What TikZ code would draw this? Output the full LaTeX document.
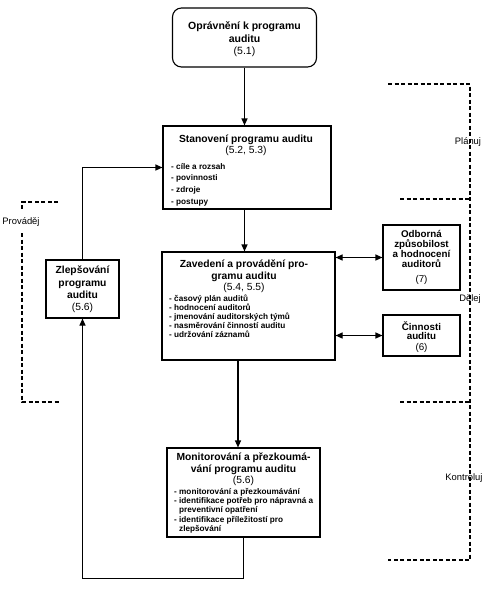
\documentclass[tikz,border=0pt]{standalone}
\usepackage{fontspec}
\setmainfont{Liberation Sans}
\usetikzlibrary{arrows.meta}
\begin{document}
\begin{tikzpicture}[x=1pt,y=-1pt,
  box/.style={draw, line width=1.1pt, inner sep=0pt},
  ttl/.style={inner sep=0pt, align=center, font=\bfseries\fontsize{10.3}{11.6}\selectfont},
  lst/.style={inner sep=0pt, align=left, anchor=west},
  arr/.style={line width=1.1pt, -{Triangle[length=7pt,width=6pt]}},
  darr/.style={line width=1.1pt, {Triangle[length=7pt,width=6pt]}-{Triangle[length=7pt,width=6pt]}},
  bracket/.style={line width=1.1pt, dash pattern=on 4pt off 2.5pt},
  lbl/.style={inner sep=0pt, font=\fontsize{9.4}{11}\selectfont}]
\useasboundingbox (0,0) rectangle (484,592);

% boxes
\node[box, rounded corners=9pt, minimum width=144pt, minimum height=59pt] (auth) at (244.5,37.5) {};
\node[box, minimum width=168pt, minimum height=83pt] (plan) at (247,167.5) {};
\node[box, minimum width=173pt, minimum height=108pt] (impl) at (248.5,306) {};
\node[box, minimum width=153pt, minimum height=89pt] (mon) at (243.5,492.5) {};
\node[box, minimum width=73pt, minimum height=58pt] (imp) at (82.5,289) {};
\node[box, minimum width=77pt, minimum height=65pt] (comp) at (421.5,257.5) {};
\node[box, minimum width=77pt, minimum height=41pt] (act) at (421.5,335.5) {};

% texts
\node[ttl, font=\bfseries\fontsize{10.5}{12.5}\selectfont] (auth-t) at (244.5,39.5) {Oprávnění k programu\\auditu\\\mdseries(5.1)};
\node[ttl, font=\bfseries\fontsize{10.3}{11}\selectfont] (plan-t) at (246,145.5) {Stanovení programu auditu\\\mdseries(5.2, 5.3)};
\node[lst, font=\bfseries\fontsize{8.2}{11.6}\selectfont] (plan-l) at (171,184.5) {- cíle a rozsah\\- povinnosti\\- zdroje\\- postupy};
\node[ttl, font=\bfseries\fontsize{10.3}{11.5}\selectfont] (impl-t) at (244,276.5) {Zavedení a provádění pro-\\gramu auditu\\\mdseries(5.4, 5.5)};
\node[lst, font=\bfseries\fontsize{8.2}{9}\selectfont] (impl-l) at (169,316) {- časový plán auditů\\- hodnocení auditorů\\- jmenování auditorských týmů\\- nasměrování činností auditu\\- udržování záznamů};
\node[ttl, font=\bfseries\fontsize{10.3}{11.5}\selectfont] (mon-t) at (243.5,469.5) {Monitorování a přezkoumá-\\vání programu auditu\\\mdseries(5.6)};
\node[lst, font=\bfseries\fontsize{8.2}{9.3}\selectfont] (mon-l) at (174,510.5) {- monitorování a přezkoumávání\\- identifikace potřeb pro nápravná a\\\phantom{- }preventivní opatření\\- identifikace příležitostí pro\\\phantom{- }zlepšování};
\node[ttl, font=\bfseries\fontsize{10.3}{12.3}\selectfont] (imp-t) at (82.5,289.5) {Zlepšování\\programu\\auditu\\\mdseries(5.6)};
\node[ttl, font=\bfseries\fontsize{9.8}{10}\selectfont] (comp-t) at (421.5,257.5) {Odborná\\způsobilost\\a hodnocení\\auditorů\\[5pt]\mdseries(7)};
\node[ttl, font=\bfseries\fontsize{9.8}{9}\selectfont] (act-t) at (421.5,337) {Činnosti\\auditu\\[2pt]\mdseries(6)};

% connectors
\coordinate (mx) at (238,0);
\draw[arr] (auth.south) -- (auth.south |- plan.north);
\draw[arr] (plan.south -| auth.south) -- (impl.north -| auth.south);
\draw[arr] (impl.south -| mx) -- (mon.north -| mx);
\draw[arr] (mon.south) -- ++(0,41) -| (imp.south);
\draw[arr] (imp.north) |- (plan.west);
\draw[darr] (impl.east |- comp.west) -- (comp.west);
\draw[darr] (impl.east |- act.west) -- (act.west);

% right brackets
\coordinate (ra) at (388,84);
\coordinate (rb) at (470,84);
\coordinate (rc) at (470,560);
\coordinate (rd) at (388,560);
\coordinate (re) at (400,199);
\coordinate (rf) at (400,402);
\draw[bracket] (ra) -- (rb) -- (rc) -- (rd);
\draw[bracket] (re) -- (re -| rb);
\draw[bracket] (rf) -- (rf -| rb);
\node[lbl] (plan-lbl) at (468,142) {Plánuj};
\node[lbl] (do-lbl) at (470,299) {Dělej};
\node[lbl] (chk-lbl) at (464,478) {Kontroluj};

% left bracket
\coordinate (la) at (58,202);
\coordinate (lb) at (22,202);
\coordinate (lc) at (22,211);
\coordinate (ld) at (22,233);
\coordinate (le) at (22,402);
\coordinate (lf) at (60,402);
\draw[bracket] (la) -- (lb) -- (lc);
\draw[bracket] (ld) -- (le) -- (lf);
\node[lbl] (act-lbl) at (21,222) {Prováděj};
\end{tikzpicture}
\end{document}
